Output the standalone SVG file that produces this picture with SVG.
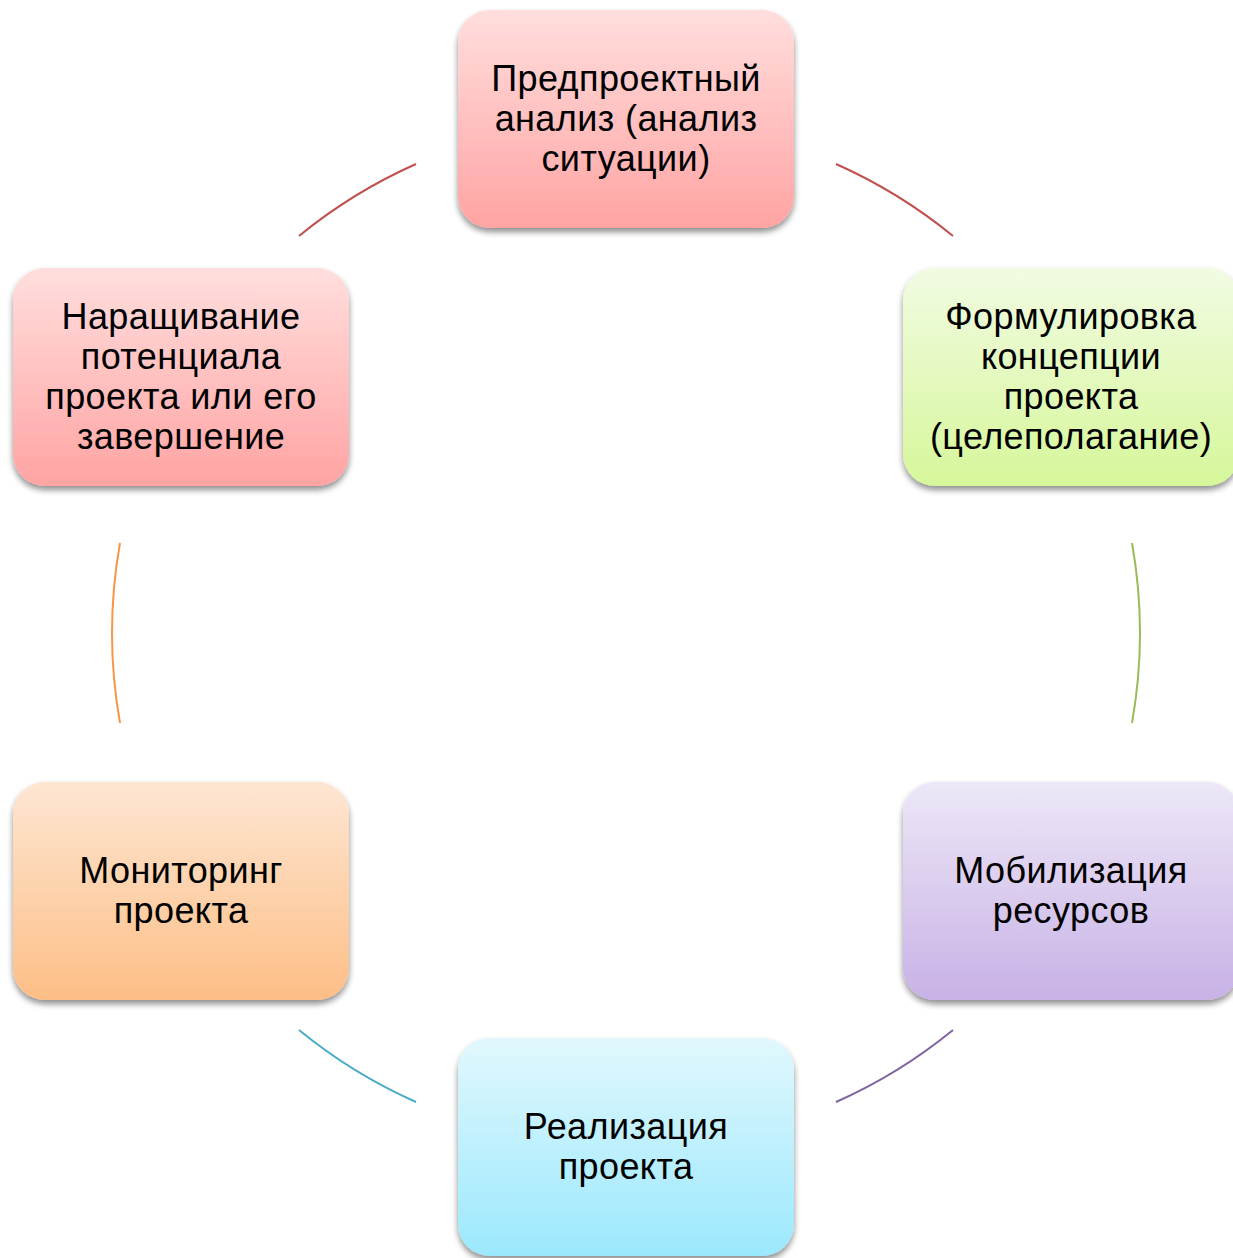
<svg xmlns="http://www.w3.org/2000/svg" width="1233" height="1258" viewBox="0 0 1233 1258">
<style>
.box{stroke:none;filter:url(#sh)}
.t{font-family:"Liberation Sans",Arial,sans-serif;font-size:36px;letter-spacing:0.4px;fill:#000;text-anchor:middle}
.arc{fill:none;stroke-width:2}
</style>
<defs>
<filter id="sh" x="-10%" y="-10%" width="120%" height="125%">
<feGaussianBlur in="SourceAlpha" stdDeviation="3"/>
<feOffset dx="0" dy="4" result="b"/>
<feComponentTransfer><feFuncA type="linear" slope="0.45"/></feComponentTransfer>
<feMerge><feMergeNode/><feMergeNode in="SourceGraphic"/></feMerge>
</filter>
<linearGradient id="gRed" x1="0" y1="0" x2="0" y2="1"><stop offset="0" stop-color="#ffdedd"/><stop offset="1" stop-color="#ffa4a3"/></linearGradient>
<linearGradient id="gGreen" x1="0" y1="0" x2="0" y2="1"><stop offset="0" stop-color="#f1fbe2"/><stop offset="1" stop-color="#d6f79a"/></linearGradient>
<linearGradient id="gPurple" x1="0" y1="0" x2="0" y2="1"><stop offset="0" stop-color="#ede7f7"/><stop offset="1" stop-color="#c8b2e6"/></linearGradient>
<linearGradient id="gTeal" x1="0" y1="0" x2="0" y2="1"><stop offset="0" stop-color="#e1f8fd"/><stop offset="1" stop-color="#9be8fd"/></linearGradient>
<linearGradient id="gOrange" x1="0" y1="0" x2="0" y2="1"><stop offset="0" stop-color="#fde6d2"/><stop offset="1" stop-color="#fdbe86"/></linearGradient>
</defs>
<rect width="1233" height="1258" fill="#fff"/>
<g id="connectors">
<path class="arc" stroke="#c0504d" d="M836,164 A514,514 0 0 1 953,236"/>
<path class="arc" stroke="#9bbb59" d="M1132,543 A514,514 0 0 1 1132,723"/>
<path class="arc" stroke="#8064a2" d="M953,1030 A514,514 0 0 1 836,1102"/>
<path class="arc" stroke="#4bacc6" d="M416,1102 A514,514 0 0 1 299,1030"/>
<path class="arc" stroke="#f79646" d="M120,723 A514,514 0 0 1 120,543"/>
<path class="arc" stroke="#c0504d" d="M299,236 A514,514 0 0 1 416,164"/>
</g>
<g id="node-1">
<rect class="box" x="458" y="10" width="336" height="218" rx="32" fill="url(#gRed)"/>
<text class="t"><tspan x="626" y="91">Предпроектный</tspan><tspan x="626" y="131">анализ (анализ</tspan><tspan x="626" y="171">ситуации)</tspan></text>
</g>
<g id="node-2">
<rect class="box" x="903" y="268" width="336" height="218" rx="32" fill="url(#gGreen)"/>
<text class="t"><tspan x="1071" y="329">Формулировка</tspan><tspan x="1071" y="369">концепции</tspan><tspan x="1071" y="409">проекта</tspan><tspan x="1071" y="449">(целеполагание)</tspan></text>
</g>
<g id="node-3">
<rect class="box" x="903" y="782" width="336" height="218" rx="32" fill="url(#gPurple)"/>
<text class="t"><tspan x="1071" y="883">Мобилизация</tspan><tspan x="1071" y="923">ресурсов</tspan></text>
</g>
<g id="node-4">
<rect class="box" x="458" y="1038" width="336" height="218" rx="32" fill="url(#gTeal)"/>
<text class="t"><tspan x="626" y="1139">Реализация</tspan><tspan x="626" y="1179">проекта</tspan></text>
</g>
<g id="node-5">
<rect class="box" x="13" y="782" width="336" height="218" rx="32" fill="url(#gOrange)"/>
<text class="t"><tspan x="181" y="883">Мониторинг</tspan><tspan x="181" y="923">проекта</tspan></text>
</g>
<g id="node-6">
<rect class="box" x="13" y="268" width="336" height="218" rx="32" fill="url(#gRed)"/>
<text class="t"><tspan x="181" y="329">Наращивание</tspan><tspan x="181" y="369">потенциала</tspan><tspan x="181" y="409">проекта или его</tspan><tspan x="181" y="449">завершение</tspan></text>
</g>
</svg>
